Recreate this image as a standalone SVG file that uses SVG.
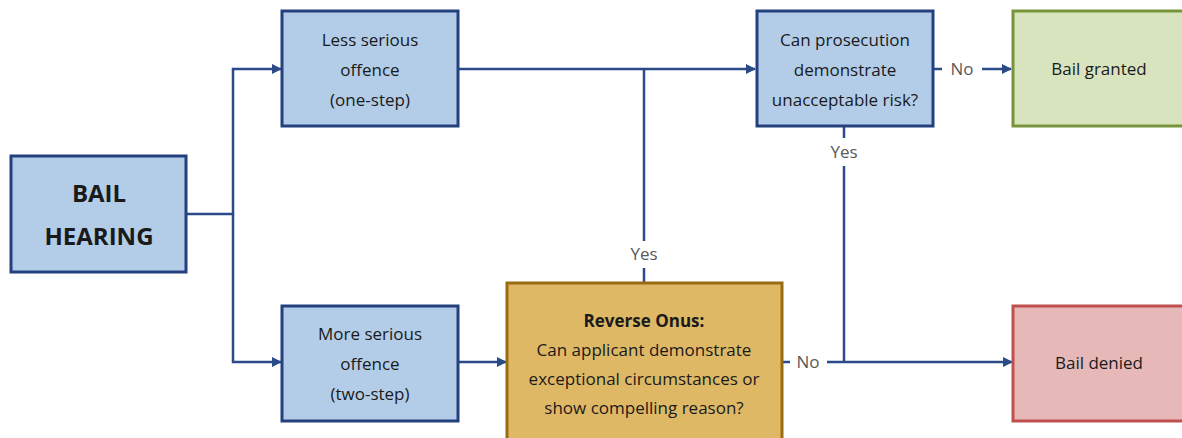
<svg xmlns="http://www.w3.org/2000/svg" width="1182" height="438" viewBox="0 0 1182 438">
<style>
.blue{fill:#B3CDE8;stroke:#24417F;stroke-width:3}
.green{fill:#D8E4BE;stroke:#78943A;stroke-width:3}
.red{fill:#E6B8B8;stroke:#C0504D;stroke-width:3}
.gold{fill:#DFB866;stroke:#9A6C12;stroke-width:3}
text{font-family:"Open Sans","Liberation Sans",sans-serif;fill:#1a1a1a;text-anchor:middle}
.t{font-size:17px}
.big{font-size:24px;font-weight:bold}
.lbl{font-size:17px;fill:#595959}
.c{fill:none;stroke:#2B4A88;stroke-width:2.5}
</style>
<defs>
<marker id="ah" markerWidth="10" markerHeight="10" refX="9" refY="5" orient="auto" markerUnits="userSpaceOnUse" viewBox="0 0 10 10">
<path d="M0,0 L10,5 L0,10 z" fill="#2B4A88"/>
</marker>
</defs>
<g id="connectors">
<path class="c" d="M186,214 H233 V69 H281" marker-end="url(#ah)"/>
<path class="c" d="M233,214 V362 H281" marker-end="url(#ah)"/>
<path class="c" d="M458,69 H755" marker-end="url(#ah)"/>
<path class="c" d="M644,69 V241"/>
<path class="c" d="M644,268 V283"/>
<path class="c" d="M458,362 H506" marker-end="url(#ah)"/>
<path class="c" d="M933,69 H942"/>
<path class="c" d="M982,69 H1011" marker-end="url(#ah)"/>
<path class="c" d="M844,127 V138"/>
<path class="c" d="M844,166 V362"/>
<path class="c" d="M782,362 H790"/>
<path class="c" d="M827,362 H1012" marker-end="url(#ah)"/>
<text class="lbl" x="644" y="260">Yes</text>
<text class="lbl" x="844" y="158">Yes</text>
<text class="lbl" x="962" y="75">No</text>
<text class="lbl" x="808" y="368">No</text>
</g>
<g id="bail-hearing">
<rect class="blue" x="11" y="156" width="175" height="116"/>
<text class="big" x="99" y="202">BAIL</text>
<text class="big" x="99" y="245">HEARING</text>
</g>
<g id="less-serious">
<rect class="blue" x="282" y="11" width="176" height="115"/>
<text class="t" x="370" y="46">Less serious</text>
<text class="t" x="370" y="76">offence</text>
<text class="t" x="370" y="106">(one-step)</text>
</g>
<g id="more-serious">
<rect class="blue" x="282" y="306" width="176" height="115"/>
<text class="t" x="370" y="340">More serious</text>
<text class="t" x="370" y="370">offence</text>
<text class="t" x="370" y="400">(two-step)</text>
</g>
<g id="prosecution">
<rect class="blue" x="757" y="11" width="176" height="115"/>
<text class="t" x="845" y="46">Can prosecution</text>
<text class="t" x="845" y="76">demonstrate</text>
<text class="t" x="845" y="106">unacceptable risk?</text>
</g>
<g id="bail-granted">
<rect class="green" x="1013" y="11" width="180" height="115"/>
<text class="t" x="1099" y="75">Bail granted</text>
</g>
<g id="bail-denied">
<rect class="red" x="1013" y="306" width="180" height="115"/>
<text class="t" x="1099" y="369">Bail denied</text>
</g>
<g id="reverse-onus">
<rect class="gold" x="507" y="283" width="275" height="165"/>
<text class="t" x="644" y="327" font-weight="bold">Reverse Onus:</text>
<text class="t" x="644" y="356">Can applicant demonstrate</text>
<text class="t" x="644" y="385">exceptional circumstances or</text>
<text class="t" x="644" y="414">show compelling reason?</text>
</g>
</svg>
